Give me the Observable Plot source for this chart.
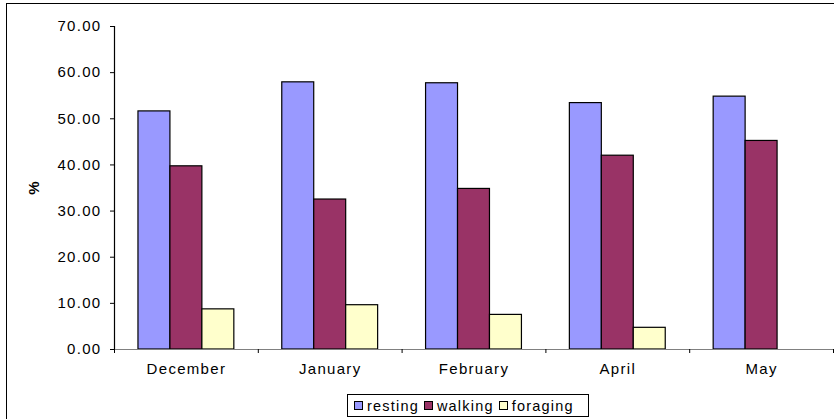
<!DOCTYPE html>
<html>
<head>
<meta charset="utf-8">
<script src="https://cdn.jsdelivr.net/npm/d3@7"></script>
<script src="https://cdn.jsdelivr.net/npm/@observablehq/plot@0.6"></script>
<style>
  html, body { margin: 0; padding: 0; overflow: hidden; background: #fff; width: 834px; height: 419px; }
  #frame { position: absolute; left: 6px; top: 3px; width: 900px; height: 500px; border: 1.5px solid #000; box-sizing: border-box; }
  #chart { position: absolute; left: 0; top: 0; }
  #chart svg text { letter-spacing: 1.3px; }
  #chart svg g[aria-label="y-axis label"] text { font-weight: bold; letter-spacing: 0; }
  #legend { position: absolute; left: 347px; top: 394px; height: 23px; width: 242px; box-sizing: border-box; border: 1px solid #000; background: #fff;
            display: flex; align-items: center; padding: 0 0 0 6px; font-family: "Liberation Sans", Arial, sans-serif; font-size: 14.5px; letter-spacing: 1.2px; color: #000; }
  .item { display: flex; align-items: center; margin-right: 5px; }
  .item:last-child { margin-right: 0; }
  .sw { width: 7px; height: 7px; border: 1px solid #000; margin-right: 4px; }
</style>
</head>
<body>
<div id="frame"></div>
<div id="chart"></div>
<div id="legend"></div>
<script>
const months = ["December", "January", "February", "April", "May"];
const series = ["resting", "walking", "foraging"];
const resting  = [51.6, 57.9, 57.7, 53.4, 54.8];
const walking  = [39.7, 32.5, 34.8, 42.0, 45.2];
const foraging = [8.7, 9.6, 7.5, 4.7, 0];
const colors = ["#9999FF", "#993366", "#FFFFCC"];
const yTicks = [0, 10, 20, 30, 40, 50, 60, 70];

const values = {resting, walking, foraging};
const data = [];
months.forEach((m, i) => series.forEach((s, k) => data.push({month: m, i, series: s, k, value: values[s][i]})));

// grouped bars: group takes 2/3 of each category slot (Excel gap width 50%)
const groupW = 2 / 3, barW = groupW / series.length;
const boundaries = d3.range(months.length + 1).map(j => j - 0.5);

const chart = Plot.plot({
  width: 834,
  height: 385,
  marginLeft: 114,
  marginRight: 1,
  marginTop: 26,
  marginBottom: 36,
  style: {fontFamily: "'Liberation Sans', Arial, sans-serif", fontSize: "14px", background: "transparent"},
  x: {type: "linear", domain: [-0.5, months.length - 0.5]},
  y: {domain: [0, 70]},
  color: {domain: series, range: colors},
  marks: [
    Plot.rectY(data, {
      x1: d => d.i - groupW / 2 + d.k * barW,
      x2: d => d.i - groupW / 2 + (d.k + 1) * barW,
      y1: 0, y2: "value",
      fill: "series", stroke: "#000", strokeWidth: 1.2
    }),
    Plot.ruleY([0], {stroke: "#808080", strokeWidth: 1.2}),
    Plot.ruleX([-0.5], {stroke: "#000", strokeWidth: 1.2}),
    Plot.axisX(boundaries, {tickSize: 4, tickFormat: () => "", stroke: "#000"}),
    Plot.axisX(d3.range(months.length), {tickSize: 0, tickPadding: 14, tickFormat: i => months[i], fontSize: 15, label: null}),
    Plot.axisY(yTicks, {tickSize: 4, tickPadding: 9, tickFormat: d3.format(".2f"), fontSize: 15, label: "%", labelAnchor: "center", labelOffset: 86, labelArrow: "none"})
  ]
});
document.getElementById("chart").appendChild(chart);

const legend = document.getElementById("legend");
series.forEach((s, k) => {
  const item = document.createElement("div");
  item.className = "item";
  const sw = document.createElement("div");
  sw.className = "sw";
  sw.style.background = colors[k];
  const t = document.createElement("span");
  t.textContent = s;
  item.appendChild(sw);
  item.appendChild(t);
  legend.appendChild(item);
});
</script>
</body>
</html>
